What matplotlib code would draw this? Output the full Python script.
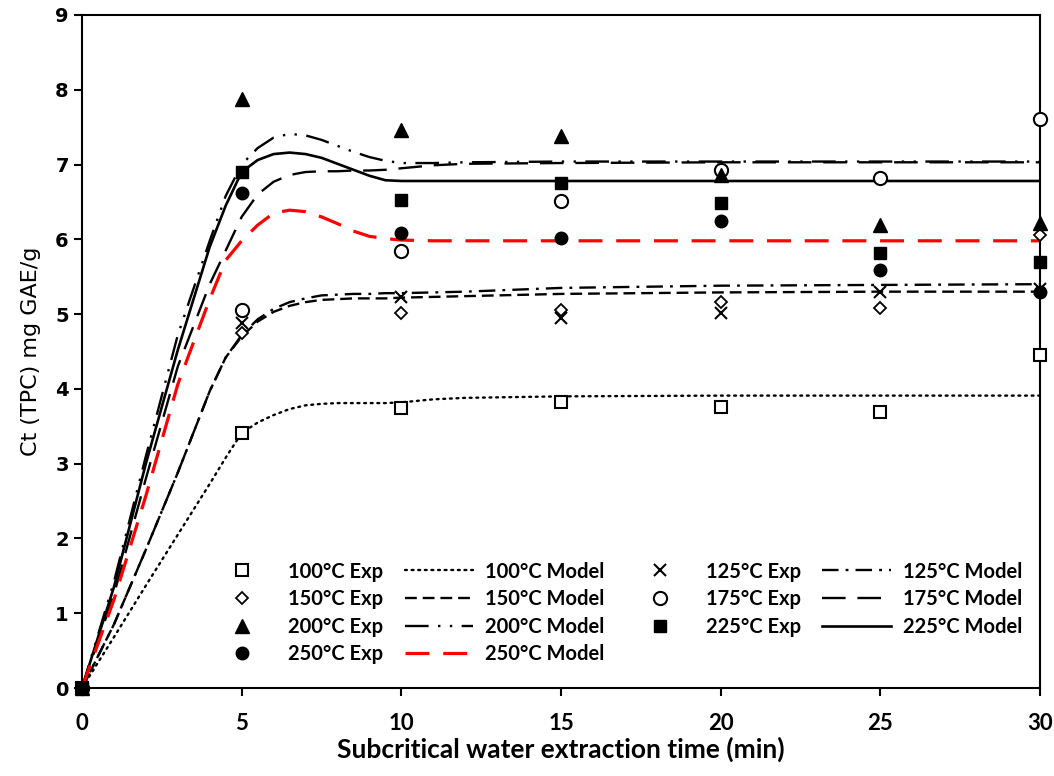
import matplotlib
matplotlib.use("Agg")
import matplotlib.pyplot as plt

# experimental points (min, mg GAE/g)
t_exp = [0, 5, 10, 15, 20, 25, 30]
exp_100 = [0, 3.41, 3.74, 3.82, 3.76, 3.69, 4.45]
exp_125 = [0, 4.88, 5.23, 4.95, 5.01, 5.30, 5.33]
exp_150 = [0, 4.75, 5.01, 5.05, 5.16, 5.08, 6.06]
exp_175 = [0, 5.05, 5.85, 6.51, 6.93, 6.82, 7.61]
exp_200 = [0, 7.88, 7.46, 7.38, 6.86, 6.19, 6.22]
exp_225 = [0, 6.90, 6.53, 6.75, 6.49, 5.82, 5.70]
exp_250 = [0, 6.62, 6.08, 6.02, 6.25, 5.59, 5.30]

# model curves, values
t_mod = [0, 1, 2, 3, 4, 4.5, 5, 5.5, 6, 6.5, 7, 7.5, 8, 8.5, 9, 9.5, 10, 11, 12, 15, 20, 25, 30]
mod_100 = [0, 0.68, 1.37, 2.05, 2.73, 3.08, 3.41, 3.55, 3.65, 3.73, 3.78, 3.80, 3.81, 3.81, 3.81, 3.81, 3.82, 3.86, 3.88, 3.90, 3.91, 3.91, 3.91]
mod_125 = [0, 0.85, 1.85, 2.88, 3.97, 4.42, 4.72, 4.93, 5.07, 5.16, 5.21, 5.25, 5.26, 5.27, 5.27, 5.28, 5.28, 5.29, 5.30, 5.35, 5.38, 5.39, 5.40]
mod_150 = [0, 0.85, 1.85, 2.88, 3.97, 4.42, 4.70, 4.90, 5.03, 5.11, 5.16, 5.19, 5.20, 5.21, 5.21, 5.21, 5.22, 5.23, 5.24, 5.27, 5.29, 5.30, 5.30]
mod_175 = [0, 1.25, 2.80, 4.30, 5.40, 5.85, 6.30, 6.60, 6.77, 6.86, 6.90, 6.91, 6.91, 6.92, 6.92, 6.93, 6.95, 6.99, 7.01, 7.02, 7.03, 7.03, 7.03]
mod_200 = [0, 1.42, 3.10, 4.72, 5.98, 6.58, 7.00, 7.22, 7.36, 7.41, 7.39, 7.33, 7.25, 7.17, 7.10, 7.05, 7.02, 7.02, 7.03, 7.04, 7.04, 7.04, 7.04]
mod_225 = [0, 1.35, 3.00, 4.52, 5.90, 6.45, 6.90, 7.06, 7.14, 7.16, 7.14, 7.09, 7.01, 6.93, 6.85, 6.79, 6.78, 6.78, 6.78, 6.78, 6.78, 6.78, 6.78]
mod_250 = [0, 1.18, 2.57, 4.06, 5.20, 5.72, 5.98, 6.19, 6.35, 6.39, 6.37, 6.30, 6.21, 6.11, 6.04, 6.01, 5.99, 5.98, 5.98, 5.98, 5.98, 5.98, 5.98]

narrow = ["Lato", "DejaVu Sans"]

fig = plt.figure(figsize=(10.54, 7.76), dpi=100)
ax = fig.add_axes([0.0778, 0.1134, 0.9089, 0.8673])

k = "black"
# model lines
l100, = ax.plot(t_mod, mod_100, color=k, lw=1.7, linestyle=(0, (0.8, 2.0)), dash_capstyle="round", label="100°C Model")
l125, = ax.plot(t_mod, mod_125, color=k, lw=1.7, linestyle=(0, (7, 3, 1.2, 3)), label="125°C Model")
l150, = ax.plot(t_mod, mod_150, color=k, lw=1.7, linestyle=(0, (5, 2.5)), label="150°C Model")
l175, = ax.plot(t_mod, mod_175, color=k, lw=1.7, linestyle=(0, (10, 5)), label="175°C Model")
l200, = ax.plot(t_mod, mod_200, color=k, lw=1.7, linestyle=(0, (10, 4, 1, 4, 1, 4)), label="200°C Model")
l225, = ax.plot(t_mod, mod_225, color=k, lw=1.9, linestyle="-", label="225°C Model")
l250, = ax.plot(t_mod, mod_250, color="#ff0000", lw=2.3, linestyle=(0, (7.5, 4.3)), label="250°C Model")

# experimental markers
mk = dict(ls="none", clip_on=False, zorder=4)
e100, = ax.plot(t_exp, exp_100, marker="s", ms=9, mfc="white", mec=k, mew=1.5, label="100°C Exp", **mk)
e125, = ax.plot(t_exp, exp_125, marker="x", ms=9, mec=k, mew=1.5, label="125°C Exp", **mk)
e150, = ax.plot(t_exp, exp_150, marker="D", ms=6.5, mfc="white", mec=k, mew=1.3, label="150°C Exp", **mk)
e175, = ax.plot(t_exp, exp_175, marker="o", ms=9.5, mfc="white", mec=k, mew=1.5, label="175°C Exp", **mk)
e200, = ax.plot(t_exp, exp_200, marker="^", ms=10, color=k, label="200°C Exp", **mk)
e225, = ax.plot(t_exp, exp_225, marker="s", ms=9, color=k, label="225°C Exp", **mk)
e250, = ax.plot(t_exp, exp_250, marker="o", ms=9, color=k, label="250°C Exp", **mk)

ax.set_xlim(0, 30)
ax.set_ylim(0, 9)
ax.set_xticks(range(0, 31, 5))
ax.set_yticks(range(0, 10))
for s in ax.spines.values():
    s.set_linewidth(1.5)
ax.tick_params(direction="out", length=6, width=1.5, top=False, right=False)
for lab in ax.get_yticklabels():
    lab.set_fontsize(14)
    lab.set_fontweight("bold")
for lab in ax.get_xticklabels():
    lab.set_fontsize(16)
    lab.set_fontweight("bold")
    lab.set_family(narrow)
ax.tick_params(axis="x", pad=12)

ax.set_xlabel("Subcritical water extraction time (min)", fontsize=19, fontweight="bold",
              family=narrow, labelpad=2)
ax.set_ylabel("Ct (TPC) mg GAE/g", fontsize=16, labelpad=10)

handles = [e100, e150, e200, e250, l100, l150, l200, l250, e125, e175, e225, l125, l175, l225]
ax.legend(handles=handles, ncol=4, loc="lower right", bbox_to_anchor=(0.99, 0.023),
          frameon=False, prop={"family": narrow, "size": 14.5, "weight": "bold"},
          handlelength=3.4, handletextpad=0.6, columnspacing=1.05, labelspacing=0.38,
          borderaxespad=0)

fig.savefig("out.png", dpi=100)
